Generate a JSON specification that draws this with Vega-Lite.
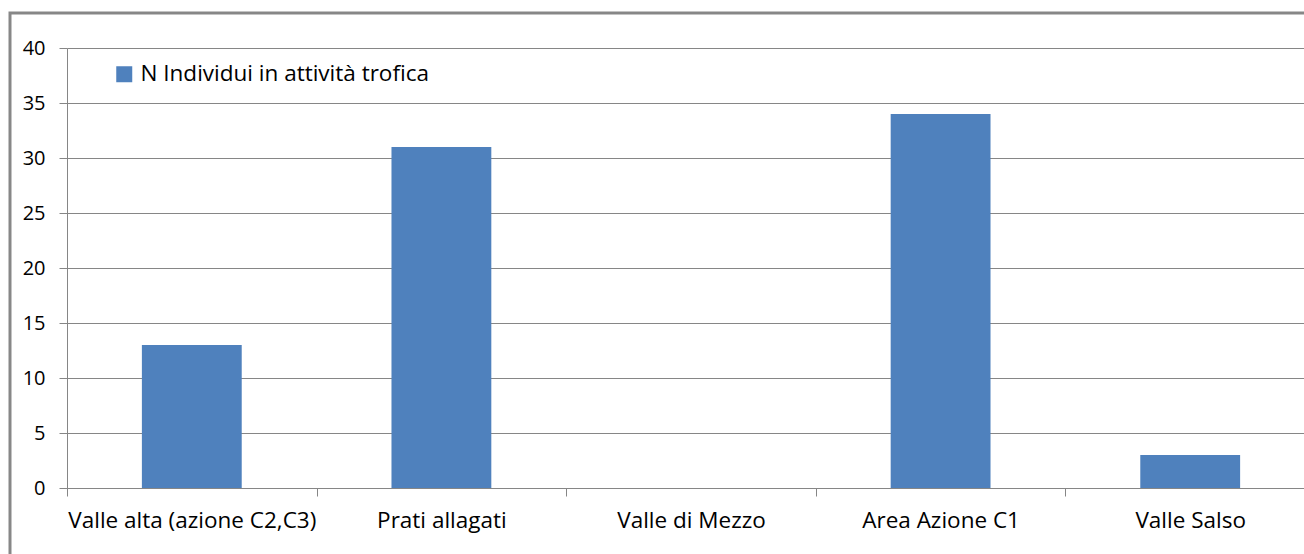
{
  "$schema": "https://vega.github.io/schema/vega-lite/v6.json",
  "width": 1296,
  "height": 544,
  "padding": {"left": 10, "top": 13, "right": 0, "bottom": 0},
  "autosize": {"type": "none"},
  "background": "white",
  "config": {
    "view": {"stroke": "#878787", "strokeWidth": 3},
    "font": "Open Sans"
  },
  "data": {
    "values": [
      {"area": "Valle alta (azione C2,C3)", "n": 13},
      {"area": "Prati allagati", "n": 31},
      {"area": "Valle di Mezzo", "n": 0},
      {"area": "Area Azione C1", "n": 34},
      {"area": "Valle Salso", "n": 3}
    ]
  },
  "mark": {"type": "bar"},
  "encoding": {
    "x": {
      "field": "area",
      "type": "nominal",
      "sort": null,
      "scale": {"range": [57, 1305], "paddingInner": 0.6, "paddingOuter": 0.3},
      "axis": {
        "title": null,
        "orient": "bottom",
        "offset": -69,
        "labelAngle": 0,
        "labelFontSize": 22.5,
        "labelColor": "#000000",
        "labelLimit": 0,
        "domainColor": "#868686",
        "tickColor": "#868686",
        "tickSize": 8,
        "bandPosition": 0,
        "tickExtra": true,
        "tickOffset": -74.88,
        "labelOffset": 74.88,
        "labelPadding": 13,
        "grid": false
      }
    },
    "y": {
      "field": "n",
      "type": "quantitative",
      "scale": {"domain": [0, 40], "range": [475, 35], "nice": false},
      "axis": {
        "title": null,
        "values": [0, 5, 10, 15, 20, 25, 30, 35, 40],
        "offset": -57,
        "grid": true,
        "gridColor": "#868686",
        "domainColor": "#868686",
        "tickColor": "#868686",
        "tickSize": 8,
        "labelFontSize": 20,
        "labelPadding": 14,
        "labelColor": "#000000"
      }
    },
    "color": {
      "datum": "N Individui in attività trofica",
      "scale": {"range": ["#4F81BD"]},
      "legend": {
        "title": null,
        "orient": "none",
        "legendX": 103,
        "legendY": 50,
        "padding": 0,
        "symbolType": "square",
        "symbolSize": 256,
        "symbolStrokeWidth": 0,
        "symbolOpacity": 1,
        "labelFontSize": 22.5,
        "labelLimit": 0,
        "labelColor": "#000000",
        "labelOffset": 5
      }
    }
  }
}
